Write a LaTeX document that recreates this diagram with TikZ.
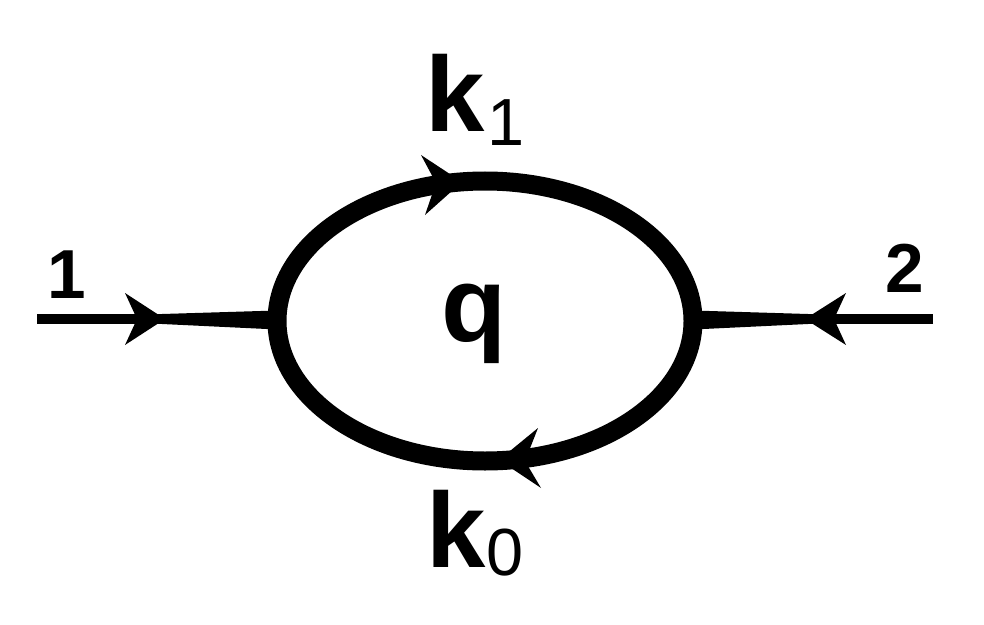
\documentclass[tikz,border=0pt]{standalone}
\usepackage{fontspec}
\setmainfont{Liberation Sans}
\begin{document}
\begin{tikzpicture}[x=0.75pt,y=-0.75pt,
  lbl/.style={inner sep=0pt,font=\bfseries\fontsize{80}{80}\selectfont},
  num/.style={inner sep=0pt,font=\bfseries\fontsize{52}{52}\selectfont},
  prop/.style={line width=14.25pt},
  ext/.style={line width=7.5pt},
  tip/.style={fill=black}]
\useasboundingbox (0,0) rectangle (984,624);
% vertices and external ends
\coordinate (c) at (485,321);
\coordinate (v1) at (277,320);
\coordinate (v2) at (693,320);
\coordinate (e1) at (37,319);
\coordinate (e2) at (933,319);
% loop
\draw[prop] (c) ellipse [x radius=208, y radius=140];
% external lines
\draw[ext] (e1) -- (162,319);
\fill (162,314) -- (277,310.5) -- (277,329.5) -- (162,324) -- cycle;
\draw[ext] (e2) -- (808,319);
\fill (808,314) -- (693,310.5) -- (693,329.5) -- (808,324) -- cycle;
% arrowheads
\fill[tip] (165,319) -- (125,293) -- (137,319) -- (125,345) -- cycle;
\fill[tip] (805,319) -- (846,293) -- (834,319) -- (846,345) -- cycle;
\fill[tip] (462,182) -- (421,155) -- (436,183) -- (425,215) -- cycle;
\fill[tip] (499,460) -- (538,428) -- (525,461) -- (541,488) -- cycle;
% labels
\node[lbl,anchor=base west] (k1) at (425,132) {k\kern2pt\raisebox{-10pt}{\mdseries\fontsize{50}{50}\selectfont 1}};
\node[lbl,anchor=base west] (k0) at (426,567) {k\kern1pt\raisebox{-6pt}{\mdseries\fontsize{50}{50}\selectfont 0}};
\node[lbl,anchor=base] (q) at (474,341) {q};
\node[num,anchor=base] (l1) at (67,298) {1};
\node[num,anchor=base] (l2) at (905,292) {2};
\end{tikzpicture}
\end{document}
